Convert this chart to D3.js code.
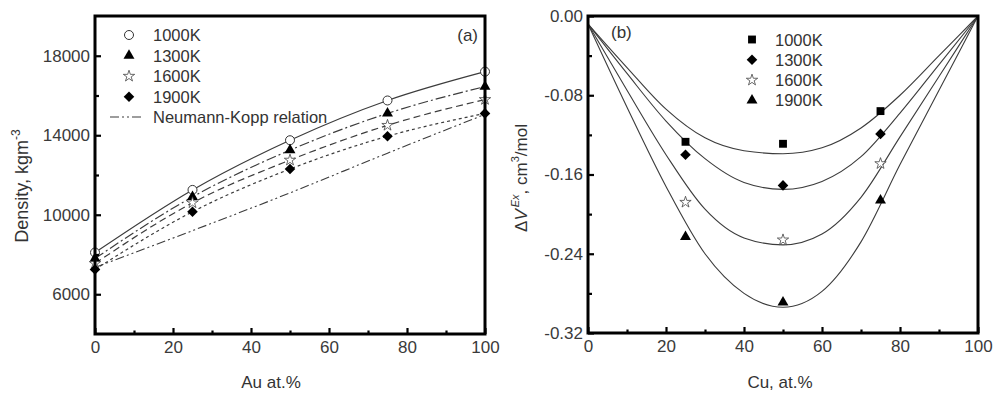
<!DOCTYPE html>
<html>
<head>
<meta charset="utf-8">
<script src="https://cdn.jsdelivr.net/npm/d3@7"></script>
<style>
  body { margin: 0; background: #fff; }
  svg { display: block; font-family: "Liberation Sans", Arial, sans-serif; }
  .tick text { fill: #3a3a3a; }
</style>
</head>
<body>
<div id="chart"></div>
<script>
// panel (a): density vs Au at.%
const auPct = [0, 25, 50, 75, 100];
const dens1000 = [8100, 11250, 13750, 15750, 17200];
const dens1300 = [7800, 10900, 13250, 15100, 16450];
const dens1600 = [7550, 10600, 12750, 14500, 15800];
const dens1900 = [7250, 10150, 12300, 13950, 15100];
const neumannKopp = [7350, 9200, 11100, 13100, 15050];
const densTicks = [6000, 10000, 14000, 18000];
const densMinor = [8000, 12000, 16000];

// panel (b): excess volume vs Cu at.%
const cuPct = [25, 50, 75];
const vex1000 = [-0.127, -0.129, -0.096];
const vex1300 = [-0.140, -0.171, -0.119];
const vex1600 = [-0.188, -0.226, -0.149];
const vex1900 = [-0.223, -0.289, -0.186];
// fitted curves
const fitCu = [0, 10, 20, 30, 40, 50, 60, 70, 80, 90, 100];
const fit1000 = [-0.008, -0.052, -0.094, -0.123, -0.136, -0.139, -0.133, -0.113, -0.080, -0.040, 0];
const fit1300 = [-0.008, -0.058, -0.106, -0.144, -0.168, -0.175, -0.167, -0.142, -0.098, -0.049, 0];
const fit1600 = [-0.008, -0.075, -0.140, -0.195, -0.224, -0.231, -0.220, -0.183, -0.122, -0.061, 0];
const fit1900 = [-0.008, -0.092, -0.172, -0.240, -0.280, -0.294, -0.278, -0.228, -0.150, -0.075, 0];
const vexTicks = [0, -0.08, -0.16, -0.24, -0.32];
const vexMinor = [-0.04, -0.12, -0.20, -0.28];

const xTicks = [0, 20, 40, 60, 80, 100];
const xMinor = [10, 30, 50, 70, 90];

const width = 1000, height = 398;
const lineColor = '#3c3c3c';

const svg = d3.select('#chart').append('svg')
    .attr('width', width)
    .attr('height', height);

function symbolPath(type, size) {
    return d3.symbol().type(type).size(size)();
}

function drawMarker(g, kind, x, y) {
    if (kind === 'circle') {
        g.append('circle').attr('cx', x).attr('cy', y).attr('r', 4.5)
            .attr('fill', '#fff').attr('stroke', '#333').attr('stroke-width', 1);
    } else if (kind === 'triangle') {
        g.append('path').attr('d', symbolPath(d3.symbolTriangle, 52))
            .attr('transform', `translate(${x},${y})`).attr('fill', '#000');
    } else if (kind === 'star') {
        g.append('path').attr('d', symbolPath(d3.symbolStar, 40))
            .attr('transform', `translate(${x},${y})`)
            .attr('fill', '#fff').attr('stroke', '#444').attr('stroke-width', 0.8);
    } else if (kind === 'diamond') {
        g.append('path').attr('d', symbolPath(d3.symbolSquare, 56))
            .attr('transform', `translate(${x},${y}) rotate(45)`).attr('fill', '#000');
    } else if (kind === 'square') {
        g.append('path').attr('d', symbolPath(d3.symbolSquare, 62))
            .attr('transform', `translate(${x},${y})`).attr('fill', '#000');
    }
}

function drawAxes(xScale, yScale, yMajor, yMinor, yFormat) {
    const [x0, x1] = xScale.range();
    const [y1, y0] = yScale.range();

    const gx = svg.append('g').attr('transform', `translate(0,${y1})`)
        .call(d3.axisBottom(xScale).tickValues(xTicks).tickSize(-6).tickPadding(6).tickFormat(d3.format('d')));
    svg.append('g').attr('transform', `translate(0,${y1})`)
        .call(d3.axisBottom(xScale).tickValues(xMinor).tickSize(-3.5).tickFormat(''));
    const gy = svg.append('g').attr('transform', `translate(${x0},0)`)
        .call(d3.axisLeft(yScale).tickValues(yMajor).tickSize(-6).tickPadding(5).tickFormat(yFormat));
    svg.append('g').attr('transform', `translate(${x0},0)`)
        .call(d3.axisLeft(yScale).tickValues(yMinor).tickSize(-4).tickFormat(''));

    svg.selectAll('.domain').remove();
    svg.selectAll('.tick line').attr('stroke', '#000').attr('stroke-width', 2.2);
    gx.selectAll('text').attr('font-size', 17).attr('dy', '0.75em');
    gy.selectAll('text').attr('font-size', 17);

    svg.append('rect')
        .attr('x', x0).attr('y', y0)
        .attr('width', x1 - x0).attr('height', y1 - y0)
        .attr('fill', 'none').attr('stroke', '#000').attr('stroke-width', 3);
}

// ---------- panel (a) ----------
const xA = d3.scaleLinear().domain([0, 100]).range([95, 485]);
const yA = d3.scaleLinear().domain([4000, 20000]).range([334, 16]);

const lineA = d3.line()
    .x(d => xA(d[0]))
    .y(d => yA(d[1]))
    .curve(d3.curveMonotoneX);

const seriesA = [
    { vals: dens1000, dash: null, marker: 'circle', label: '1000K' },
    { vals: dens1300, dash: '10,3,2,3', marker: 'triangle', label: '1300K' },
    { vals: dens1600, dash: '7,4', marker: 'star', label: '1600K' },
    { vals: dens1900, dash: '3,3', marker: 'diamond', label: '1900K' }
];

const gA = svg.append('g');
gA.append('path')
    .datum(auPct.map((x, i) => [x, neumannKopp[i]]))
    .attr('fill', 'none').attr('stroke', lineColor).attr('stroke-width', 1.1)
    .attr('stroke-dasharray', '9,3,2,3,2,3')
    .attr('d', lineA);
seriesA.forEach(s => {
    gA.append('path')
        .datum(auPct.map((x, i) => [x, s.vals[i]]))
        .attr('fill', 'none').attr('stroke', lineColor).attr('stroke-width', 1.2)
        .attr('stroke-dasharray', s.dash)
        .attr('d', lineA);
});

drawAxes(xA, yA, densTicks, densMinor, d3.format('d'));

seriesA.forEach(s => {
    auPct.forEach((x, i) => drawMarker(gA, s.marker, xA(x), yA(s.vals[i])));
});

// legend (a)
const legA = svg.append('g');
seriesA.forEach((s, i) => {
    const y = 35 + i * 20.6;
    const mg = legA.append('g');
    drawMarker(mg, s.marker, 129, y);
    legA.append('text').attr('x', 153).attr('y', y + 6)
        .attr('font-size', 16.5).attr('fill', '#333').text(s.label);
});
legA.append('line')
    .attr('x1', 110).attr('x2', 144).attr('y1', 117).attr('y2', 117)
    .attr('stroke', lineColor).attr('stroke-width', 1.1)
    .attr('stroke-dasharray', '9,3,2,3,2,3');
legA.append('text').attr('x', 153).attr('y', 123)
    .attr('font-size', 16.5).attr('fill', '#333').text('Neumann-Kopp relation');

svg.append('text').attr('x', 478).attr('y', 41).attr('text-anchor', 'end')
    .attr('font-size', 17).attr('fill', '#333').text('(a)');

svg.append('text').attr('x', 271).attr('y', 388).attr('text-anchor', 'middle')
    .attr('font-size', 17).attr('fill', '#333').text('Au at.%');

const ylabA = svg.append('text')
    .attr('transform', 'translate(28,186) rotate(-90)')
    .attr('text-anchor', 'middle').attr('font-size', 18).attr('fill', '#333');
ylabA.append('tspan').text('Density, kgm');
ylabA.append('tspan').attr('font-size', 12).attr('dy', -8).text('-3');

// ---------- panel (b) ----------
const xB = d3.scaleLinear().domain([0, 100]).range([588, 978]);
const yB = d3.scaleLinear().domain([-0.32, 0]).range([333, 16]);

const lineB = d3.line()
    .x(d => xB(d[0]))
    .y(d => yB(d[1]))
    .curve(d3.curveMonotoneX);

const seriesB = [
    { vals: vex1000, fit: fit1000, marker: 'square', label: '1000K' },
    { vals: vex1300, fit: fit1300, marker: 'diamond', label: '1300K' },
    { vals: vex1600, fit: fit1600, marker: 'star', label: '1600K' },
    { vals: vex1900, fit: fit1900, marker: 'triangle', label: '1900K' }
];

const gB = svg.append('g');
seriesB.forEach(s => {
    gB.append('path')
        .datum(fitCu.map((x, i) => [x, s.fit[i]]))
        .attr('fill', 'none').attr('stroke', lineColor).attr('stroke-width', 1.1)
        .attr('d', lineB);
});

drawAxes(xB, yB, vexTicks, vexMinor, d3.format('.2f'));
// d3 uses a unicode minus; reference uses a hyphen
svg.selectAll('.tick text').each(function () {
    const t = d3.select(this);
    t.text(t.text().replace('\u2212', '-'));
});

seriesB.forEach(s => {
    cuPct.forEach((x, i) => drawMarker(gB, s.marker, xB(x), yB(s.vals[i])));
});

const legB = svg.append('g');
seriesB.forEach((s, i) => {
    const y = 39.5 + i * 20.3;
    const mg = legB.append('g');
    drawMarker(mg, s.marker, 752, y);
    legB.append('text').attr('x', 775).attr('y', y + 6)
        .attr('font-size', 16.5).attr('fill', '#333').text(s.label);
});

svg.append('text').attr('x', 611).attr('y', 38)
    .attr('font-size', 17).attr('fill', '#333').text('(b)');

svg.append('text').attr('x', 780).attr('y', 388).attr('text-anchor', 'middle')
    .attr('font-size', 17).attr('fill', '#333').text('Cu, at.%');

const ylabB = svg.append('text')
    .attr('transform', 'translate(527,178) rotate(-90)')
    .attr('text-anchor', 'middle').attr('font-size', 17).attr('fill', '#333');
ylabB.append('tspan').text('\u0394');
ylabB.append('tspan').attr('font-style', 'italic').text('V');
ylabB.append('tspan').attr('font-style', 'italic').attr('font-size', 11).attr('dy', -8).attr('dx', 2).text('Ex');
ylabB.append('tspan').attr('dy', 8).text(', cm');
ylabB.append('tspan').attr('font-size', 11).attr('dy', -8).text('3');
ylabB.append('tspan').attr('dy', 8).text('/mol');
</script>
</body>
</html>
